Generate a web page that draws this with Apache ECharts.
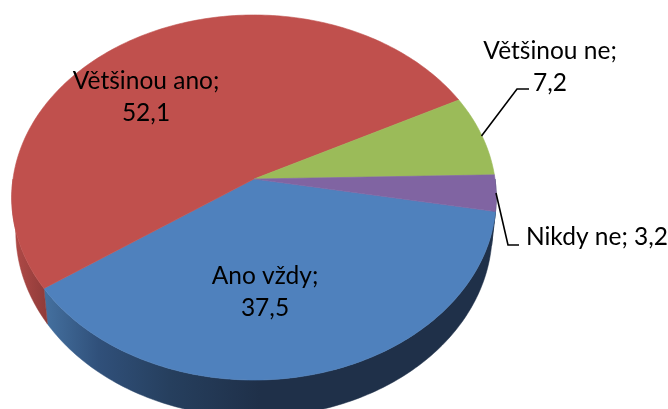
<!DOCTYPE html>
<html><head><meta charset="utf-8">
<style>html,body{margin:0;padding:0;background:#fff}#c{width:668px;height:409px}</style>
<script src="https://cdn.jsdelivr.net/npm/echarts@6/dist/echarts.min.js"></script>
</head><body><div id="c"></div>
<script>
const categories = ['Ano vždy', 'Většinou ano', 'Většinou ne', 'Nikdy ne'];
const values = [37.5, 52.1, 7.2, 3.2];
const labelLines = ['{n};\n{v}', '{n};\n{v}', '{n};\n{v}', '{n}; {v}'];

const topColors = ['#4f81bd', '#c0504d', '#9bbb59', '#8064a2'];
const labelAt = [[265, 292], [146, 97], [550, 67], [597, 237]];
const leaders = [null, null, [[481.5, 136], [517, 89], [529, 89]], [[496, 193], [508, 245], [519, 245]]];
const wallFills = [
  {type:'linear', global:true, x:45, y:0, x2:260, y2:0, colorStops:[{offset:0,color:'#44709f'},{offset:0.25,color:'#30507a'},{offset:0.58,color:'#263f5e'},{offset:1,color:'#1f3049'}]},
  {type:'linear', global:true, x:14, y:0, x2:50, y2:0, colorStops:[{offset:0,color:'#b04a47'},{offset:1,color:'#8c3a38'}]},
  '#76903f', '#1f3049'
];

// Perspective projection of the pie disc onto the page
const CX = 254, R = 241, Y0 = 179, A = -162.5, C = 0.1014;
const FIRST = -10.2, DEPTH_CY = 34, MID = 197.5, SX = 237 / 241, SY = 185.5 / 182.5;
const rad = d => d * Math.PI / 180;
function topPt(deg) {
  const u = Math.cos(rad(deg)), v = Math.sin(rad(deg)), w = 1 + C * v;
  return [CX + R * u / w, (A * v + Y0) / w];
}
function bottomPt(deg) {
  const p = topPt(deg);
  return [CX + (p[0] - CX) * SX, MID + DEPTH_CY + (p[1] - MID) * SY];
}
const total = values.reduce((a, b) => a + b, 0);
function sliceRange(i) {
  let s = FIRST;
  for (let k = 0; k < i; k++) s -= values[k] / total * 360;
  return [s, s - values[i] / total * 360];   // clockwise
}
function samples(a, b) {
  const out = [], n = Math.max(2, Math.ceil(Math.abs(a - b)));
  for (let k = 0; k <= n; k++) out.push(a + (b - a) * k / n);
  return out;
}
function topRender(params, api) {
  const i = params.dataIndex, r = sliceRange(i);
  const pts = [[CX, Y0]].concat(samples(r[0], r[1]).map(topPt));
  return {type:'polygon', shape:{points:pts}, style:{fill:topColors[i], stroke:topColors[i], lineWidth:0.6}};
}
function wallRender(params, api) {
  const i = params.dataIndex, r = sliceRange(i);
  const parts = [];
  // visible front half: angles in [-180, 0] modulo 360
  [0, -360].forEach(shift => {
    const a = Math.min(r[0], shift), b = Math.max(r[1], shift - 180);
    if (a > b) parts.push([a, b]);
  });
  return {type:'group', children: parts.map(p => {
    const s = samples(p[0], p[1]);
    return {type:'polygon', shape:{points:s.map(topPt).concat(s.slice().reverse().map(bottomPt))},
            style:{fill:wallFills[i], stroke:wallFills[i], lineWidth:0.5}};
  })};
}
function labelRender(params, api) {
  const i = params.dataIndex;
  const txt = labelLines[i].replace('{n}', categories[i]).replace('{v}', String(values[i]).replace('.', ','));
  const kids = [{type:'text', style:{text:txt, x:labelAt[i][0], y:labelAt[i][1], align:'center', verticalAlign:'middle',
    font:'24.5px Lato', lineHeight:32, fill:'#000'}}];
  if (leaders[i]) kids.push({type:'polyline', shape:{points:leaders[i]}, style:{fill:'none', stroke:'#000', lineWidth:1.6}});
  return {type:'group', children:kids};
}
const chart = echarts.init(document.getElementById('c'), null, {renderer:'canvas'});
const seriesData = values.map((v, i) => ({name:categories[i], value:[i, v]}));
chart.setOption({
  animation:false,
  backgroundColor:'#fff',
  series:[
    {type:'custom', coordinateSystem:'none', z:1, silent:true, renderItem:wallRender, data:seriesData},
    {type:'custom', coordinateSystem:'none', z:2, silent:true, renderItem:topRender, data:seriesData},
    {type:'custom', coordinateSystem:'none', z:3, silent:true, renderItem:labelRender, data:seriesData}
  ]
});
</script></body></html>
